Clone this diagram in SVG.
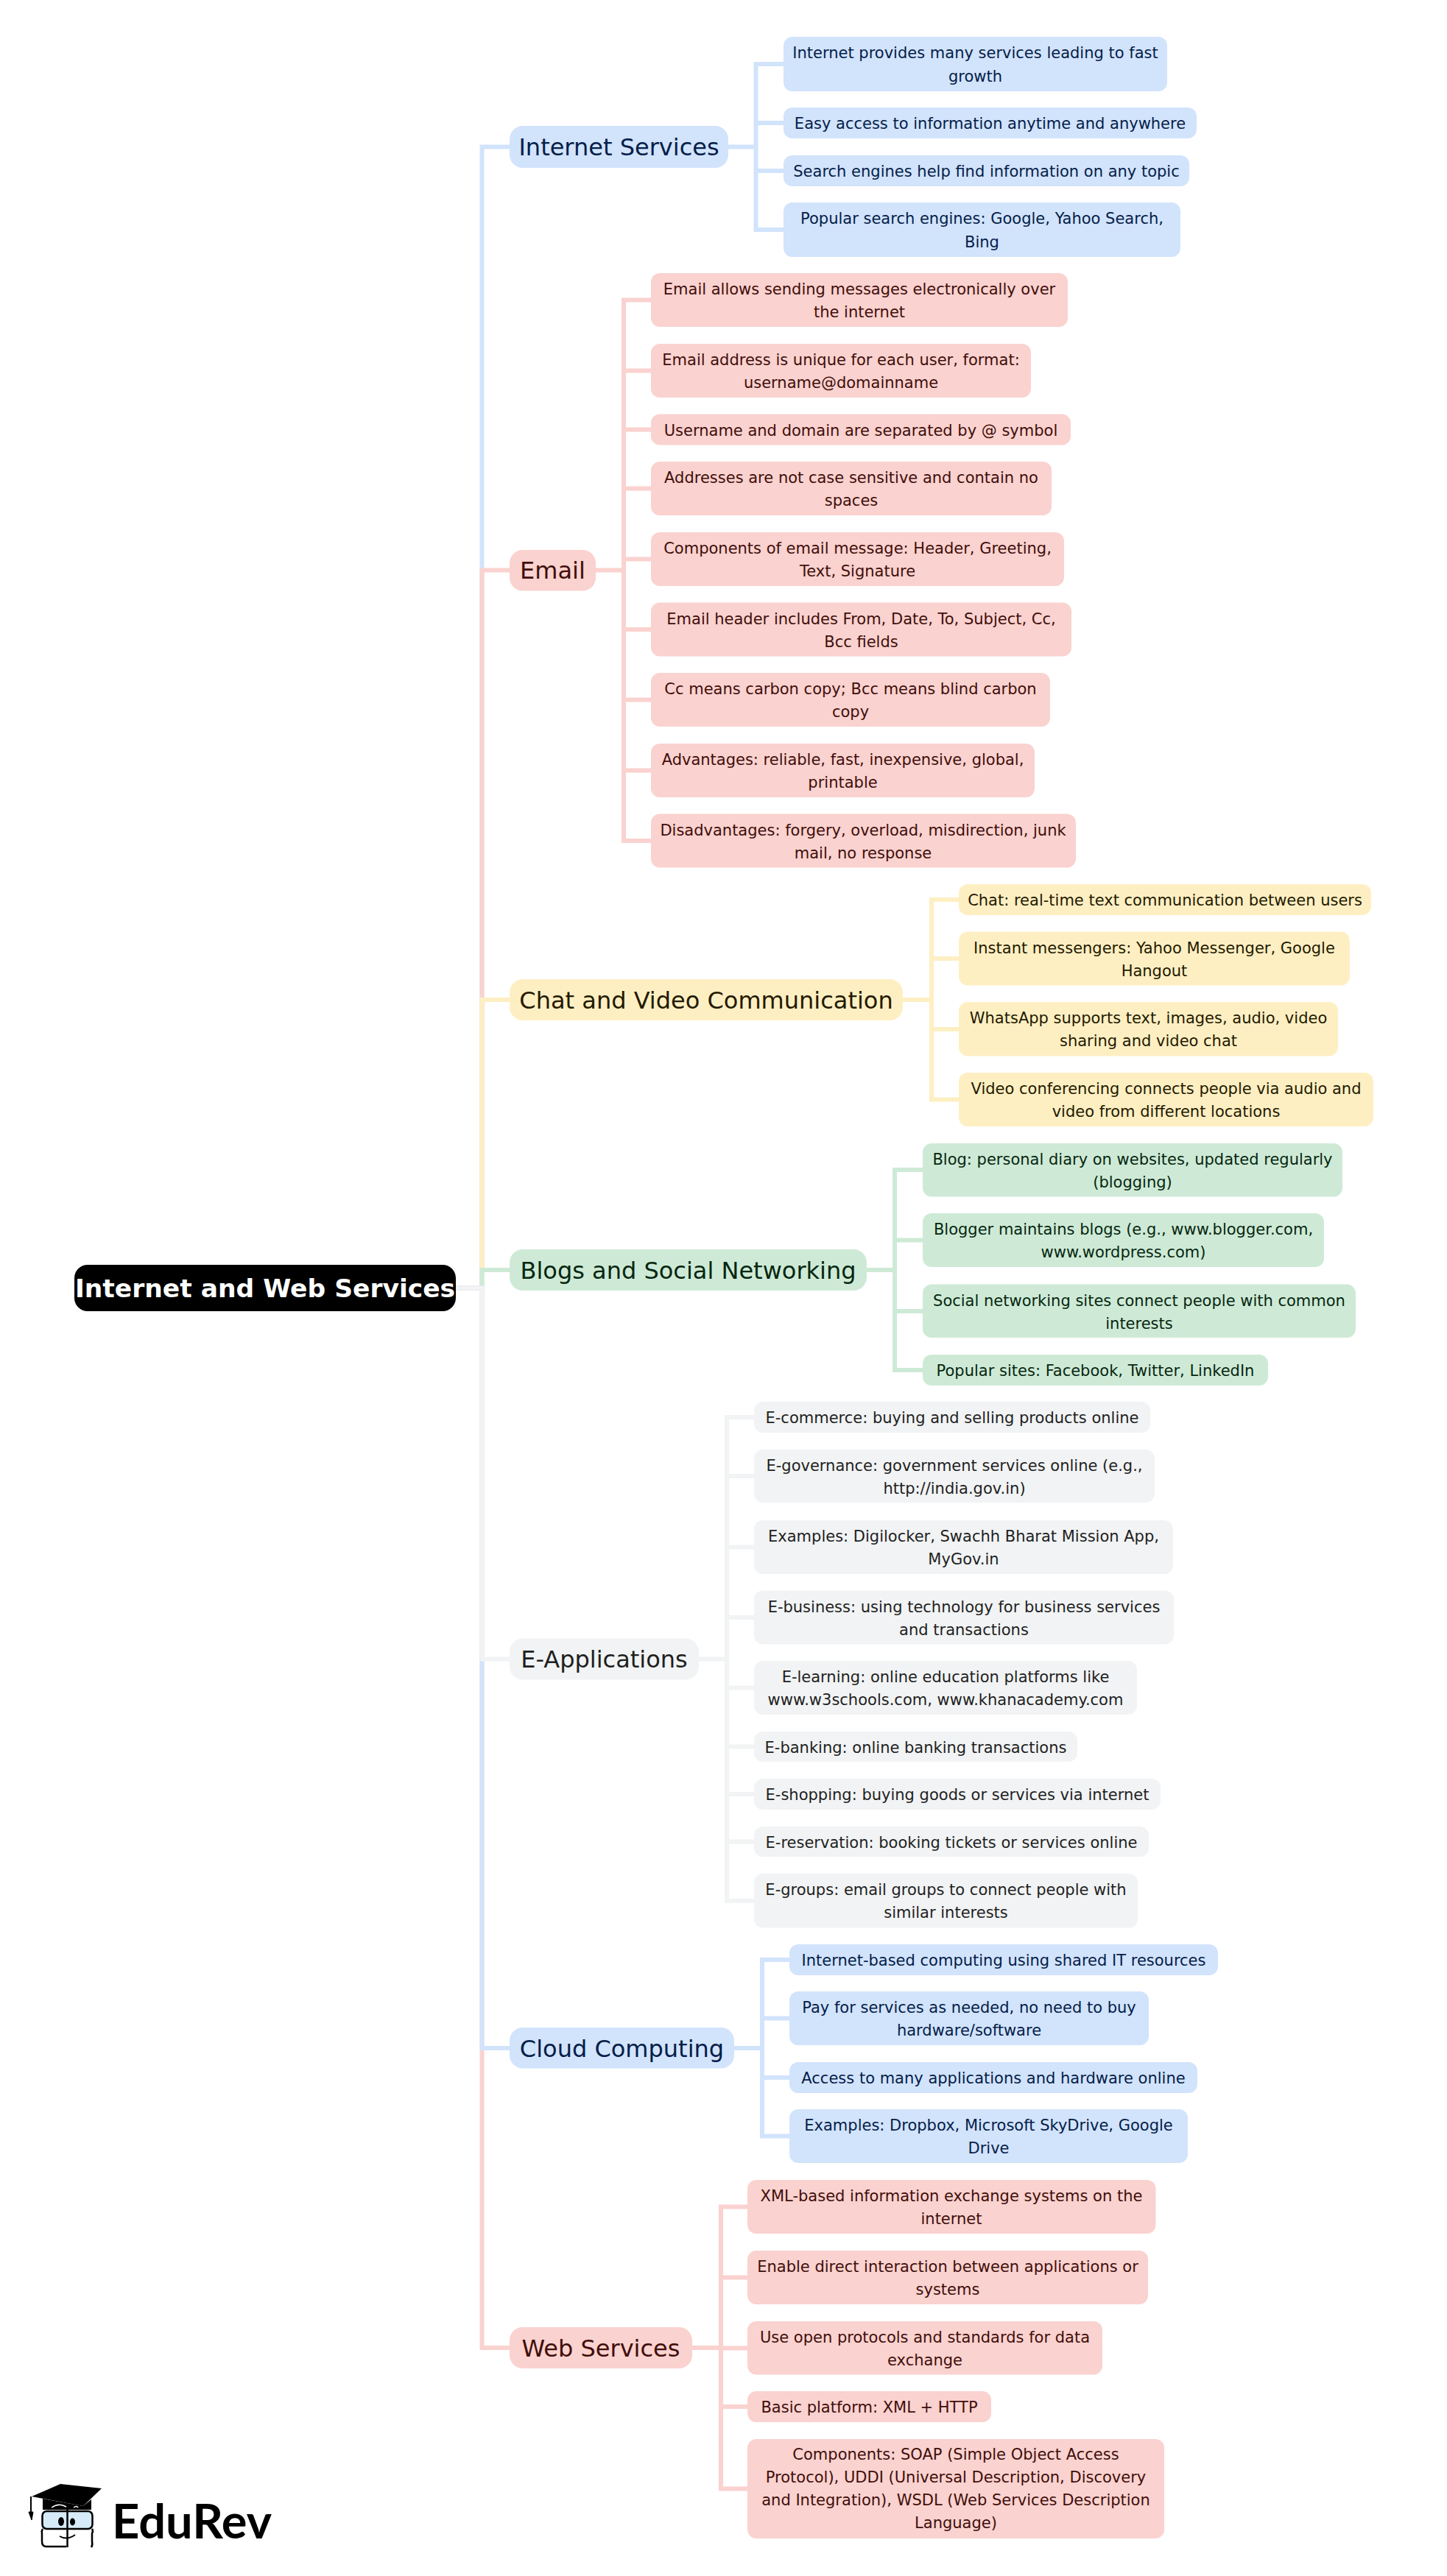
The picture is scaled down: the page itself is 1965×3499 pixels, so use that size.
<svg xmlns="http://www.w3.org/2000/svg" width="1965" height="3499" viewBox="0 0 1965 3499">
<style>
text{font-family:"DejaVu Sans","Liberation Sans",sans-serif;text-anchor:middle}
.l text{font-size:21px}
.m text{font-size:32px}
.b rect{fill:#d2e3fc}.b text{fill:#041e49}
.p rect{fill:#fad2cf}.p text{fill:#410e0b}
.y rect{fill:#feefc3}.y text{fill:#241a00}
.g rect{fill:#ceead6}.g text{fill:#072711}
.n rect{fill:#f1f3f4}.n text{fill:#1f1f1f}
.l rect{rx:12px;ry:12px}
.m rect{rx:18px;ry:18px}
#connectors path{fill:none;stroke-width:6;stroke-linejoin:miter}
.cb{stroke:#d2e3fc}.cp{stroke:#fad2cf}.cy{stroke:#feefc3}.cg{stroke:#ceead6}.cn{stroke:#f1f3f4}
</style>
<rect width="1965" height="3499" fill="#ffffff"/>
<g id="connectors">
<path class="cb" d="M619 1749.5H654.5V199.5H692"/>
<path class="cp" d="M619 1749.5H654.5V774.5H692"/>
<path class="cy" d="M619 1749.5H654.5V1358H692"/>
<path class="cg" d="M619 1749.5H654.5V1725H692"/>
<path class="cp" d="M619 1749.5H654.5V3189H692"/>
<path class="cb" d="M619 1749.5H654.5V2782H692"/>
<path class="cn" d="M619 1749.5H654.5V2253.5H692"/>
<path class="cb" d="M989 199.5H1026.5V87H1064M989 199.5H1026.5V167H1064M989 199.5H1026.5V232H1064M989 199.5H1026.5V312H1064"/>
<path class="cp" d="M809 774.5H847V407.5H884M809 774.5H847V503.5H884M809 774.5H847V583.5H884M809 774.5H847V663.5H884M809 774.5H847V759.5H884M809 774.5H847V855H884M809 774.5H847V950.5H884M809 774.5H847V1046.5H884M809 774.5H847V1142H884"/>
<path class="cy" d="M1226 1358H1265V1222H1302M1226 1358H1265V1302H1302M1226 1358H1265V1398H1302M1226 1358H1265V1493.5H1302"/>
<path class="cg" d="M1177 1725H1215V1589H1253M1177 1725H1215V1684.5H1253M1177 1725H1215V1781H1253M1177 1725H1215V1861H1253"/>
<path class="cn" d="M949 2253.5H987V1925H1024M949 2253.5H987V2005H1024M949 2253.5H987V2101.5H1024M949 2253.5H987V2197H1024M949 2253.5H987V2292.5H1024M949 2253.5H987V2372.5H1024M949 2253.5H987V2437H1024M949 2253.5H987V2501.5H1024M949 2253.5H987V2582H1024"/>
<path class="cb" d="M997 2782H1035V2662H1072M997 2782H1035V2741.5H1072M997 2782H1035V2822H1072M997 2782H1035V2901.5H1072"/>
<path class="cp" d="M940 3189H979V2997.5H1015M940 3189H979V3093.5H1015M940 3189H979V3189.5H1015M940 3189H979V3269H1015M940 3189H979V3380.5H1015"/>
</g>
<g id="root"><rect x="101" y="1718" width="518" height="63" rx="18" ry="18" fill="#000"/><text x="360" y="1761.5" font-size="34.5" font-weight="700" fill="#fff">Internet and Web Services</text></g>

<g id="internet-services" class="m b"><rect x="692" y="171" width="297" height="57"/><text x="840.5" y="211">Internet Services</text></g>
<g id="is1" class="l b"><rect x="1064" y="50" width="521" height="74"/><text x="1324.5" y="79.4">Internet provides many services leading to fast</text><text x="1324.5" y="110.7">growth</text></g>
<g id="is2" class="l b"><rect x="1064" y="146" width="561" height="42"/><text x="1344.5" y="175">Easy access to information anytime and anywhere</text></g>
<g id="is3" class="l b"><rect x="1064" y="211" width="551" height="42"/><text x="1339.5" y="240">Search engines help find information on any topic</text></g>
<g id="is4" class="l b"><rect x="1064" y="275" width="539" height="74"/><text x="1333.5" y="304.4">Popular search engines: Google, Yahoo Search,</text><text x="1333.5" y="335.7">Bing</text></g>

<g id="email" class="m p"><rect x="692" y="747" width="117" height="55.5"/><text x="750.5" y="786">Email</text></g>
<g id="em1" class="l p"><rect x="884" y="371" width="566" height="73"/><text x="1167" y="400">Email allows sending messages electronically over</text><text x="1167" y="431">the internet</text></g>
<g id="em2" class="l p"><rect x="884" y="467" width="516" height="73"/><text x="1142" y="496">Email address is unique for each user, format:</text><text x="1142" y="527">username@domainname</text></g>
<g id="em3" class="l p"><rect x="884" y="562.5" width="570" height="42"/><text x="1169" y="591.5">Username and domain are separated by @ symbol</text></g>
<g id="em4" class="l p"><rect x="884" y="627" width="544" height="73"/><text x="1156" y="656">Addresses are not case sensitive and contain no</text><text x="1156" y="687">spaces</text></g>
<g id="em5" class="l p"><rect x="884" y="723" width="561" height="73"/><text x="1164.5" y="752">Components of email message: Header, Greeting,</text><text x="1164.5" y="783">Text, Signature</text></g>
<g id="em6" class="l p"><rect x="884" y="818.5" width="571" height="73"/><text x="1169.5" y="847.5">Email header includes From, Date, To, Subject, Cc,</text><text x="1169.5" y="878.5">Bcc fields</text></g>
<g id="em7" class="l p"><rect x="884" y="914" width="542" height="73"/><text x="1155" y="943">Cc means carbon copy; Bcc means blind carbon</text><text x="1155" y="974">copy</text></g>
<g id="em8" class="l p"><rect x="884" y="1010" width="521" height="73"/><text x="1144.5" y="1039">Advantages: reliable, fast, inexpensive, global,</text><text x="1144.5" y="1070">printable</text></g>
<g id="em9" class="l p"><rect x="884" y="1105.5" width="577" height="73"/><text x="1172" y="1134.5">Disadvantages: forgery, overload, misdirection, junk</text><text x="1172" y="1165.5">mail, no response</text></g>

<g id="chat" class="m y"><rect x="692" y="1330" width="534" height="56"/><text x="959" y="1369.5">Chat and Video Communication</text></g>
<g id="ch1" class="l y"><rect x="1302" y="1201" width="560" height="42"/><text x="1582" y="1230">Chat: real-time text communication between users</text></g>
<g id="ch2" class="l y"><rect x="1302" y="1265.5" width="531" height="73"/><text x="1567.5" y="1294.5">Instant messengers: Yahoo Messenger, Google</text><text x="1567.5" y="1325.5">Hangout</text></g>
<g id="ch3" class="l y"><rect x="1302" y="1361" width="515" height="73.5"/><text x="1559.5" y="1390">WhatsApp supports text, images, audio, video</text><text x="1559.5" y="1421">sharing and video chat</text></g>
<g id="ch4" class="l y"><rect x="1302" y="1457" width="563" height="73"/><text x="1583.5" y="1486">Video conferencing connects people via audio and</text><text x="1583.5" y="1517">video from different locations</text></g>

<g id="blogs" class="m g"><rect x="692" y="1697" width="485" height="56"/><text x="934.5" y="1736.5">Blogs and Social Networking</text></g>
<g id="bl1" class="l g"><rect x="1253" y="1553" width="570" height="72.5"/><text x="1538" y="1581.5">Blog: personal diary on websites, updated regularly</text><text x="1538" y="1612.5">(blogging)</text></g>
<g id="bl2" class="l g"><rect x="1253" y="1648" width="545" height="73"/><text x="1525.5" y="1677">Blogger maintains blogs (e.g., www.blogger.com,</text><text x="1525.5" y="1708">www.wordpress.com)</text></g>
<g id="bl3" class="l g"><rect x="1253" y="1744.5" width="588" height="72.5"/><text x="1547" y="1773.5">Social networking sites connect people with common</text><text x="1547" y="1804.5">interests</text></g>
<g id="bl4" class="l g"><rect x="1253" y="1840" width="469" height="42"/><text x="1487.5" y="1869">Popular sites: Facebook, Twitter, LinkedIn</text></g>

<g id="eapps" class="m n"><rect x="692" y="2225.5" width="257" height="56"/><text x="820.5" y="2265">E-Applications</text></g>
<g id="ea1" class="l n"><rect x="1024" y="1904" width="538" height="42"/><text x="1293" y="1933">E-commerce: buying and selling products online</text></g>
<g id="ea2" class="l n"><rect x="1024" y="1969" width="544" height="72"/><text x="1296" y="1997.5">E-governance: government services online (e.g.,</text><text x="1296" y="2028.5">http://india.gov.in)</text></g>
<g id="ea3" class="l n"><rect x="1024" y="2065" width="569" height="73"/><text x="1308.5" y="2094">Examples: Digilocker, Swachh Bharat Mission App,</text><text x="1308.5" y="2125">MyGov.in</text></g>
<g id="ea4" class="l n"><rect x="1024" y="2160.5" width="570" height="73"/><text x="1309" y="2189.5">E-business: using technology for business services</text><text x="1309" y="2220.5">and transactions</text></g>
<g id="ea5" class="l n"><rect x="1024" y="2256" width="520" height="73"/><text x="1284" y="2285">E-learning: online education platforms like</text><text x="1284" y="2316">www.w3schools.com, www.khanacademy.com</text></g>
<g id="ea6" class="l n"><rect x="1024" y="2352" width="439" height="41"/><text x="1243.5" y="2380.5">E-banking: online banking transactions</text></g>
<g id="ea7" class="l n"><rect x="1024" y="2416" width="552" height="42"/><text x="1300" y="2445">E-shopping: buying goods or services via internet</text></g>
<g id="ea8" class="l n"><rect x="1024" y="2481" width="536" height="41"/><text x="1292" y="2509.5">E-reservation: booking tickets or services online</text></g>
<g id="ea9" class="l n"><rect x="1024" y="2545" width="521" height="73.5"/><text x="1284.5" y="2574">E-groups: email groups to connect people with</text><text x="1284.5" y="2605">similar interests</text></g>

<g id="cloud" class="m b"><rect x="692" y="2754" width="305" height="55.5"/><text x="844.5" y="2793.5">Cloud Computing</text></g>
<g id="cl1" class="l b"><rect x="1072" y="2641" width="582" height="42"/><text x="1363" y="2670">Internet-based computing using shared IT resources</text></g>
<g id="cl2" class="l b"><rect x="1072" y="2705" width="488" height="73"/><text x="1316" y="2734">Pay for services as needed, no need to buy</text><text x="1316" y="2765">hardware/software</text></g>
<g id="cl3" class="l b"><rect x="1072" y="2801" width="554" height="42"/><text x="1349" y="2830">Access to many applications and hardware online</text></g>
<g id="cl4" class="l b"><rect x="1072" y="2865" width="541" height="73"/><text x="1342.5" y="2894">Examples: Dropbox, Microsoft SkyDrive, Google</text><text x="1342.5" y="2925">Drive</text></g>

<g id="web" class="m p"><rect x="692" y="3161" width="248" height="56"/><text x="816" y="3200.5">Web Services</text></g>
<g id="ws1" class="l p"><rect x="1015" y="2961" width="554.5" height="73"/><text x="1292" y="2990">XML-based information exchange systems on the</text><text x="1292" y="3021">internet</text></g>
<g id="ws2" class="l p"><rect x="1015" y="3057" width="544" height="73"/><text x="1287" y="3086">Enable direct interaction between applications or</text><text x="1287" y="3117">systems</text></g>
<g id="ws3" class="l p"><rect x="1015" y="3153" width="482" height="72.5"/><text x="1256" y="3181.5">Use open protocols and standards for data</text><text x="1256" y="3212.5">exchange</text></g>
<g id="ws4" class="l p"><rect x="1015" y="3248" width="331" height="42"/><text x="1180.5" y="3277">Basic platform: XML + HTTP</text></g>
<g id="ws5" class="l p"><rect x="1015" y="3313" width="566" height="135"/><text x="1298" y="3341">Components: SOAP (Simple Object Access</text><text x="1298" y="3372">Protocol), UDDI (Universal Description, Discovery</text><text x="1298" y="3403">and Integration), WSDL (Web Services Description</text><text x="1298" y="3434">Language)</text></g>

<g id="logo">
<path d="M42 3391V3412" stroke="#000" stroke-width="2" fill="none"/>
<path d="M39 3412H45L43 3423Z" fill="#000" stroke="#000" stroke-width="1"/>
<path d="M43 3391L82 3374L138 3380L113 3404Z" fill="#000"/>
<path d="M58 3394L113 3404L124 3395V3409H58Z" fill="#000"/>
<path d="M70 3406Q80 3399 90 3405M100 3406Q104 3403 106 3406" stroke="#fff" stroke-width="1.5" fill="none"/>
<rect x="57.5" y="3411" width="68" height="24" rx="6" fill="#d6ebf7" stroke="#000" stroke-width="2.5"/>
<path d="M58 3435Q56 3438 57 3441V3452Q57 3459 63 3459H90M125 3435Q127 3438 125 3441V3452Q126 3457 124 3460" fill="none" stroke="#000" stroke-width="2.5"/>
<path d="M91.5 3408V3460" stroke="#000" stroke-width="2.5"/>
<ellipse cx="83" cy="3425" rx="4" ry="6" fill="#000"/>
<ellipse cx="98.5" cy="3425.5" rx="3.5" ry="5" fill="#000"/>
<path d="M81 3445Q91 3451 102 3443" stroke="#000" stroke-width="2" fill="none"/>
</g>
<text id="brand" x="260.5" y="3448" style="font-family:Lato,'Liberation Sans',sans-serif;font-size:65px;font-weight:700" fill="#000">EduRev</text>
</svg>
